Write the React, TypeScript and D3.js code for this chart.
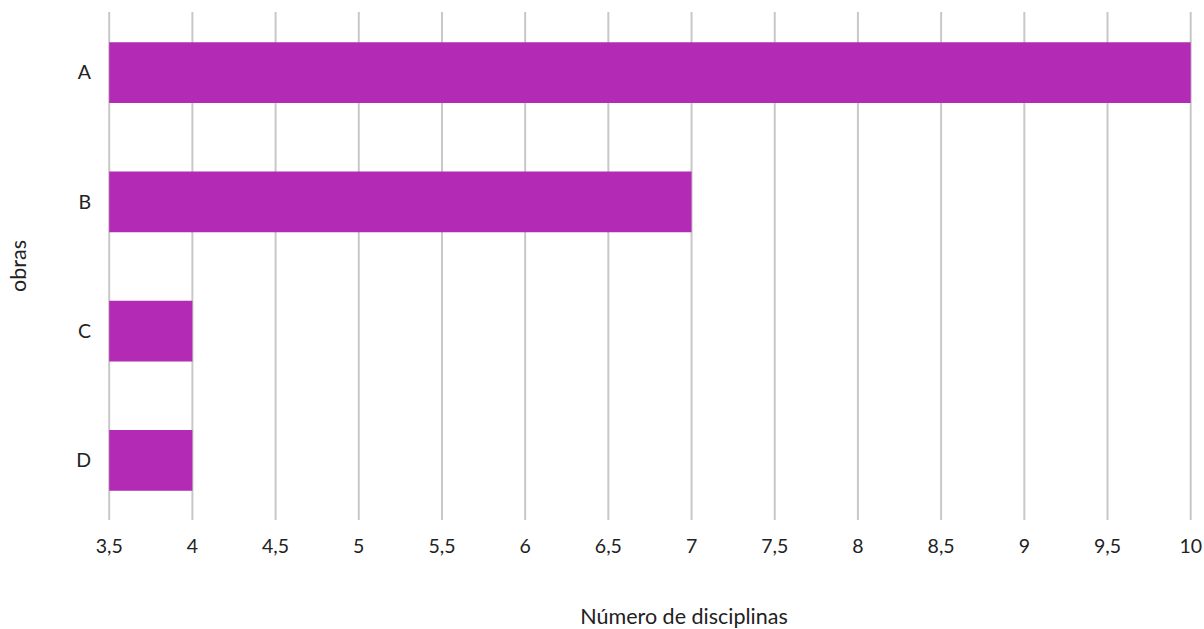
import React from "react";
import * as d3 from "d3";

const categories = ["A", "B", "C", "D"];
const values = [10, 7, 4, 4];
const xTicks = [3.5, 4, 4.5, 5, 5.5, 6, 6.5, 7, 7.5, 8, 8.5, 9, 9.5, 10];
const xTitle = "Número de disciplinas";
const yTitle = "obras";

export default function App() {
  const W = 1204, H = 629;
  const x = d3.scaleLinear().domain([3.5, 10]).range([109.2, 1190.7]);
  const y = d3.scaleBand<string>().domain(categories).range([8, 525]).paddingInner(0.53).paddingOuter(0.265);
  const font = "Lato, 'Open Sans', sans-serif";
  const fmt = (v: number) => String(v).replace(".", ",");
  return (
    <svg width={W} height={H} style={{ position: "absolute", left: 0, top: 0, background: "#fff" }} fontFamily={font}>
      {xTicks.map((t) => (
        <line key={"g" + t} x1={x(t)} x2={x(t)} y1={12} y2={520} stroke="#c8c8c8" strokeWidth={2} />
      ))}
      {categories.map((c, i) => (
        <rect key={c} x={x(3.5)} y={y(c)} width={x(values[i]) - x(3.5)} height={y.bandwidth()} fill="#b32ab4" />
      ))}
      {xTicks.map((t) => (
        <text key={"t" + t} x={x(t)} y={553} textAnchor="middle" fontSize={19.5} fill="#222">{fmt(t)}</text>
      ))}
      {categories.map((c) => (
        <text key={"l" + c} x={91} y={(y(c) as number) + y.bandwidth() / 2} dy="0.35em" textAnchor="end" fontSize={19.5} fill="#222">{c}</text>
      ))}
      <text x={684} y={624} textAnchor="middle" fontSize={21.5} fill="#222">{xTitle}</text>
      <text transform={`translate(26,266) rotate(-90)`} textAnchor="middle" fontSize={21.5} fill="#222">{yTitle}</text>
    </svg>
  );
}
